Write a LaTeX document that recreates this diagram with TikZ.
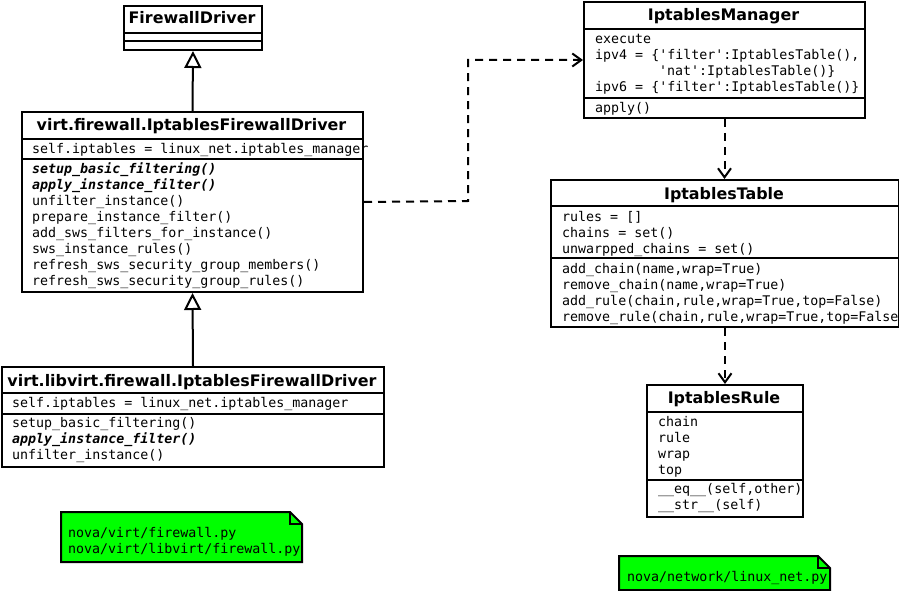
\documentclass[tikz,border=0pt]{standalone}
\usepackage{fontspec}
\setmainfont{DejaVu Sans}
\setmonofont{DejaVu Sans Mono}
\usetikzlibrary{arrows.meta}
\definecolor{notegreen}{RGB}{0,255,0}
\begin{document}
\begin{tikzpicture}[x=1pt,y=-1pt,
  umlbox/.style={draw,line width=2pt,minimum width=#1,anchor=north west,inner sep=0pt},
  sep/.style={line width=2pt},
  ttl/.style={font=\fontsize{15.9}{18}\selectfont\bfseries,inner sep=0pt,anchor=base},
  txt/.style={font=\fontsize{13.3}{16}\selectfont\ttfamily,inner sep=0pt,anchor=base west},
  btxt/.style={font=\fontsize{13.3}{16}\selectfont\ttfamily\bfseries\itshape,inner sep=0pt,anchor=base west},
  inherit/.style={line width=2pt,-{Triangle[open,length=17pt,width=17pt,line width=2pt]}},
  dep/.style={line width=2pt,dash pattern=on 8pt off 6pt,-{Straight Barb[length=9pt,width=13pt,line width=2pt]}},
  note/.style={draw,line width=2pt,fill=notegreen}]
\useasboundingbox (0,0) rectangle (899,591);
% FirewallDriver
\node[umlbox=138pt,minimum height=44pt] (fd) at (123,5) {};
\node[ttl] (fdt) at (192,24) {FirewallDriver};
\draw[sep] (123,33) -- (261,33);
\draw[sep] (123,41) -- (261,41);
% virt.firewall.IptablesFirewallDriver
\node[umlbox=341pt,minimum height=180pt] (fw2) at (21,111) {};
\node[ttl] (fw2t) at (191.5,131) {virt.firewall.IptablesFirewallDriver};
\draw[sep] (21,139) -- (362,139);
\draw[sep] (21,159) -- (362,159);
\node[txt] (a1) at (32,153.5) {self.iptables = linux\_net.iptables\_manager};
\node[btxt] (m1) at (32,173.5) {setup\_basic\_filtering()};
\node[btxt] (m2) at (32,189.5) {apply\_instance\_filter()};
\node[txt] (m3) at (32,205.5) {unfilter\_instance()};
\node[txt] (m4) at (32,221.5) {prepare\_instance\_filter()};
\node[txt] (m5) at (32,237.5) {add\_sws\_filters\_for\_instance()};
\node[txt] (m6) at (32,253.5) {sws\_instance\_rules()};
\node[txt] (m7) at (32,269.5) {refresh\_sws\_security\_group\_members()};
\node[txt] (m8) at (32,285.5) {refresh\_sws\_security\_group\_rules()};
% virt.libvirt.firewall.IptablesFirewallDriver
\node[umlbox=382pt,minimum height=100pt] (fw3) at (1,366) {};
\node[ttl] (fw3t) at (192,386) {virt.libvirt.firewall.IptablesFirewallDriver};
\draw[sep] (1,393) -- (383,393);
\draw[sep] (1,414) -- (383,414);
\node[txt] (b1) at (12,407.5) {self.iptables = linux\_net.iptables\_manager};
\node[txt] (c1) at (12,427.5) {setup\_basic\_filtering()};
\node[btxt] (c2) at (12,443.5) {apply\_instance\_filter()};
\node[txt] (c3) at (12,459.5) {unfilter\_instance()};
% IptablesManager
\node[umlbox=281pt,minimum height=116pt] (mgr) at (583,1) {};
\node[ttl] (mgrt) at (723.5,21) {IptablesManager};
\draw[sep] (583,29) -- (864,29);
\draw[sep] (583,98) -- (864,98);
\node[txt] (d1) at (595,43.5) {execute};
\node[txt] (d2) at (595,59.5) {ipv4 = \{'filter':IptablesTable(),};
\node[txt] (d3) at (659,75.5) {'nat':IptablesTable()\}};
\node[txt] (d4) at (595,91.5) {ipv6 = \{'filter':IptablesTable()\}};
\node[txt] (d5) at (595,112.5) {apply()};
% IptablesTable
\node[umlbox=348pt,minimum height=147pt] (tbl) at (550,179) {};
\node[ttl] (tblt) at (724,199) {IptablesTable};
\draw[sep] (550,206) -- (898,206);
\draw[sep] (550,258) -- (898,258);
\node[txt] (e1) at (562,221.5) {rules = []};
\node[txt] (e2) at (562,237.5) {chains = set()};
\node[txt] (e3) at (562,253.5) {unwarpped\_chains = set()};
\node[txt] (e4) at (562,273.5) {add\_chain(name,wrap=True)};
\node[txt] (e5) at (562,289.5) {remove\_chain(name,wrap=True)};
\node[txt] (e6) at (562,305.5) {add\_rule(chain,rule,wrap=True,top=False)};
\node[txt] (e7) at (562,321.5) {remove\_rule(chain,rule,wrap=True,top=False};
% IptablesRule
\node[umlbox=156pt,minimum height=132pt] (rul) at (646,384) {};
\node[ttl] (rult) at (724,403) {IptablesRule};
\draw[sep] (646,412) -- (802,412);
\draw[sep] (646,480) -- (802,480);
\node[txt] (f1) at (658,426.5) {chain};
\node[txt] (f2) at (658,442.5) {rule};
\node[txt] (f3) at (658,458.5) {wrap};
\node[txt] (f4) at (658,474.5) {top};
\node[txt] (f5) at (658,493.5) {\_\_eq\_\_(self,other)};
\node[txt] (f6) at (658,509.5) {\_\_str\_\_(self)};
% notes
\draw[note] (61,512) -- (290,512) -- (302,524) -- (302,562) -- (61,562) -- cycle;
\draw[line width=1.5pt] (290,512) -- (290,524) -- (302,524);
\node[txt] (n1) at (68,537.5) {nova/virt/firewall.py};
\node[txt] (n2) at (68,553.5) {nova/virt/libvirt/firewall.py};
\draw[note] (619,556) -- (818,556) -- (830,568) -- (830,590) -- (619,590) -- cycle;
\draw[line width=1.5pt] (818,556) -- (818,568) -- (830,568);
\node[txt] (n3) at (627,581.5) {nova/network/linux\_net.py};
% connectors
\draw[inherit] (fw2.north) -- (fd.south);
\draw[inherit] (fw3.north) -- (fw2.south);
\draw[dep] (fw2.east) -- (468,201) |- (mgr.west);
\draw[dep] (mgr.south) -- (mgr.south |- tbl.north);
\draw[dep] (tbl.south -| rul.north) -- (rul.north);
\end{tikzpicture}
\end{document}
